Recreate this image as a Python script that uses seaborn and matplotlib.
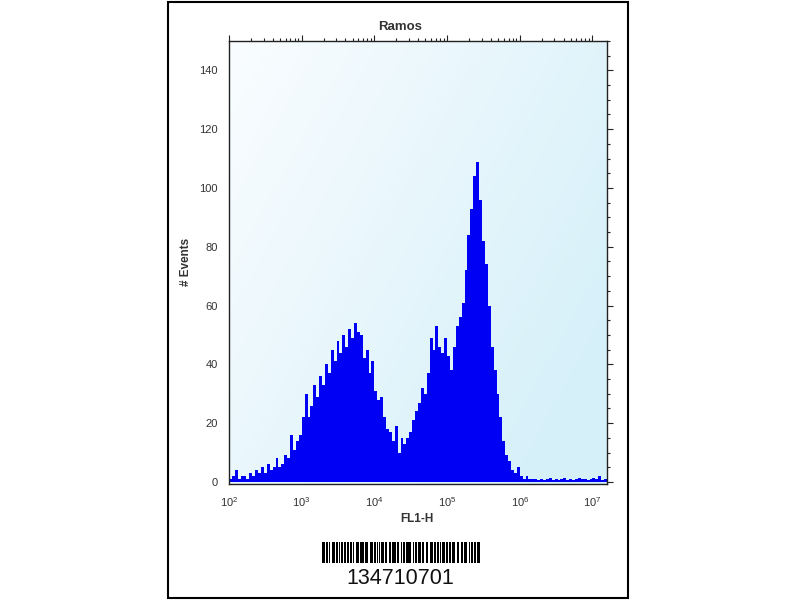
import numpy as np
import pandas as pd
import seaborn as sns
import matplotlib.pyplot as plt
from matplotlib.patches import Rectangle
from matplotlib.ticker import MultipleLocator, LogLocator, NullFormatter

# Histogram: bins of 0.04 decades starting at 10^2
log_start = 2.0
bin_width = 0.04
event_counts = [
    1, 2, 4, 1, 2, 2, 1, 3, 2, 4,
    3, 5, 3, 6, 4, 5, 8, 5, 6, 9,
    8, 16, 11, 14, 16, 22, 30, 22, 26, 33,
    29, 36, 33, 40, 37, 45, 41, 48, 44, 50,
    46, 52, 49, 54, 51, 50, 42, 45, 37, 41,
    31, 28, 29, 22, 18, 17, 14, 19, 10, 15,
    13, 15, 17, 21, 24, 27, 32, 30, 37, 49,
    45, 53, 46, 44, 49, 43, 38, 46, 53, 56,
    61, 72, 84, 93, 104, 109, 96, 82, 74, 60,
    46, 38, 30, 22, 14, 9, 7, 4, 3, 5,
    2, 1, 2, 1, 1, 1, 0.5, 1, 0.5, 1,
    1.5, 0.5, 1, 0.5, 1, 1.5, 0.5, 1, 0.5, 1,
    1.5, 1, 1, 0.5, 1, 1.5, 1, 2, 0.5, 1,
]
title = "Ramos"
x_label = "FL1-H"
y_label = "# Events"
barcode_text = "134710701"
# bar / space widths of the barcode, in modules (bar first)
barcode_modules = [3, 1, 2, 1, 2, 2, 3, 1, 2, 1, 1, 1, 2, 1, 3, 1, 2, 1,
                   2, 1, 1, 2, 3, 1, 2, 1, 2, 1, 3, 2, 3, 1, 2, 1, 2, 1,
                   1, 1, 3, 1, 2, 2, 2, 1, 1, 1, 3, 1, 2, 2, 1, 1, 2, 1,
                   3, 1, 2, 2, 1, 1, 2, 1, 3, 1, 2, 1, 1, 1, 2, 2, 3, 1,
                   2, 1, 2, 1, 1, 2, 3, 1, 2, 1, 2, 1, 3, 1, 1, 1, 2, 2,
                   2, 1, 3, 2, 1, 1, 3, 1, 2, 1, 3]

n_bins = len(event_counts)
centers = 10 ** (log_start + bin_width * (np.arange(n_bins) + 0.5))
df = pd.DataFrame({"FL1-H": centers, "count": event_counts})

sns.set_style("white")
plt.rcParams["font.family"] = ["Liberation Sans", "DejaVu Sans"]

fig = plt.figure(figsize=(8, 6), dpi=100)
rect = [229 / 800, 1 - 484 / 600, 378 / 800, 443 / 600]

# gradient plot background
bg = fig.add_axes(rect, zorder=0)
gx, gy = np.meshgrid(np.linspace(0, 1, 200), np.linspace(0, 1, 200))
t = np.clip(0.7 * gx + 0.45 * gy, 0, 1)[..., None]
c0 = np.array([250, 253, 255]) / 255
c1 = np.array([214, 240, 249]) / 255
bg.imshow(c0 + (c1 - c0) * t, extent=[0, 1, 0, 1], aspect="auto", origin="upper")
bg.axis("off")

ax = fig.add_axes(rect, zorder=1)
ax.patch.set_alpha(0)
sns.histplot(data=df, x="FL1-H", weights="count", log_scale=True,
             binwidth=bin_width, binrange=(log_start, log_start + bin_width * n_bins),
             color="#0000f5", alpha=1, linewidth=0, ax=ax)

ax.set_xlim(10 ** 2, 10 ** 7.2)
ax.set_ylim(-0.7, 150)
ax.yaxis.set_major_locator(MultipleLocator(20))
ax.yaxis.set_minor_locator(MultipleLocator(5))
ax.set_yticks(range(0, 141, 20))
ax.xaxis.set_major_locator(LogLocator(base=10, numticks=10))
ax.xaxis.set_minor_locator(LogLocator(base=10, subs=np.arange(2, 10), numticks=20))
ax.xaxis.set_minor_formatter(NullFormatter())
ax.tick_params(which="both", direction="out", top=True, right=True,
               labelsize=8, labelcolor="#333333", color="#222222", width=0.8)
ax.tick_params(which="major", length=4.5)
ax.tick_params(which="minor", length=2.5)
for s in ax.spines.values():
    s.set_color("#222222")
    s.set_linewidth(1)
ax.set_xlabel("")
ax.set_ylabel("")

fig.text(400 / 800, 1 - 27 / 600, title, ha="center", va="center",
         fontsize=9.5, fontweight="bold", color="#333333")
fig.text(417 / 800, 1 - 519 / 600, x_label, ha="center", va="center",
         fontsize=8.5, fontweight="bold", color="#333333")
fig.text(186 / 800, 1 - 262 / 600, y_label, ha="center", va="center",
         rotation=90, fontsize=8.5, fontweight="bold", color="#333333")

# barcode
bc = fig.add_axes([322 / 800, 1 - 563 / 600, 158 / 800, 21 / 600])
widths = np.array(barcode_modules, dtype=float)
lefts = np.concatenate([[0], np.cumsum(widths)[:-1]])
bc.bar(lefts[::2], np.ones(len(widths[::2])), width=widths[::2], align="edge",
       color="black", linewidth=0)
bc.set_xlim(0, widths.sum())
bc.set_ylim(0, 1)
bc.axis("off")
fig.text(400 / 800, 1 - 579 / 600, barcode_text, ha="center", va="center",
         fontsize=15.5, color="#111111")

fig.patches.append(Rectangle((168 / 800, 2 / 600), 460 / 800, 596 / 600,
                             transform=fig.transFigure, fill=False,
                             edgecolor="black", linewidth=1.5))

fig.savefig("out.png", dpi=100)
